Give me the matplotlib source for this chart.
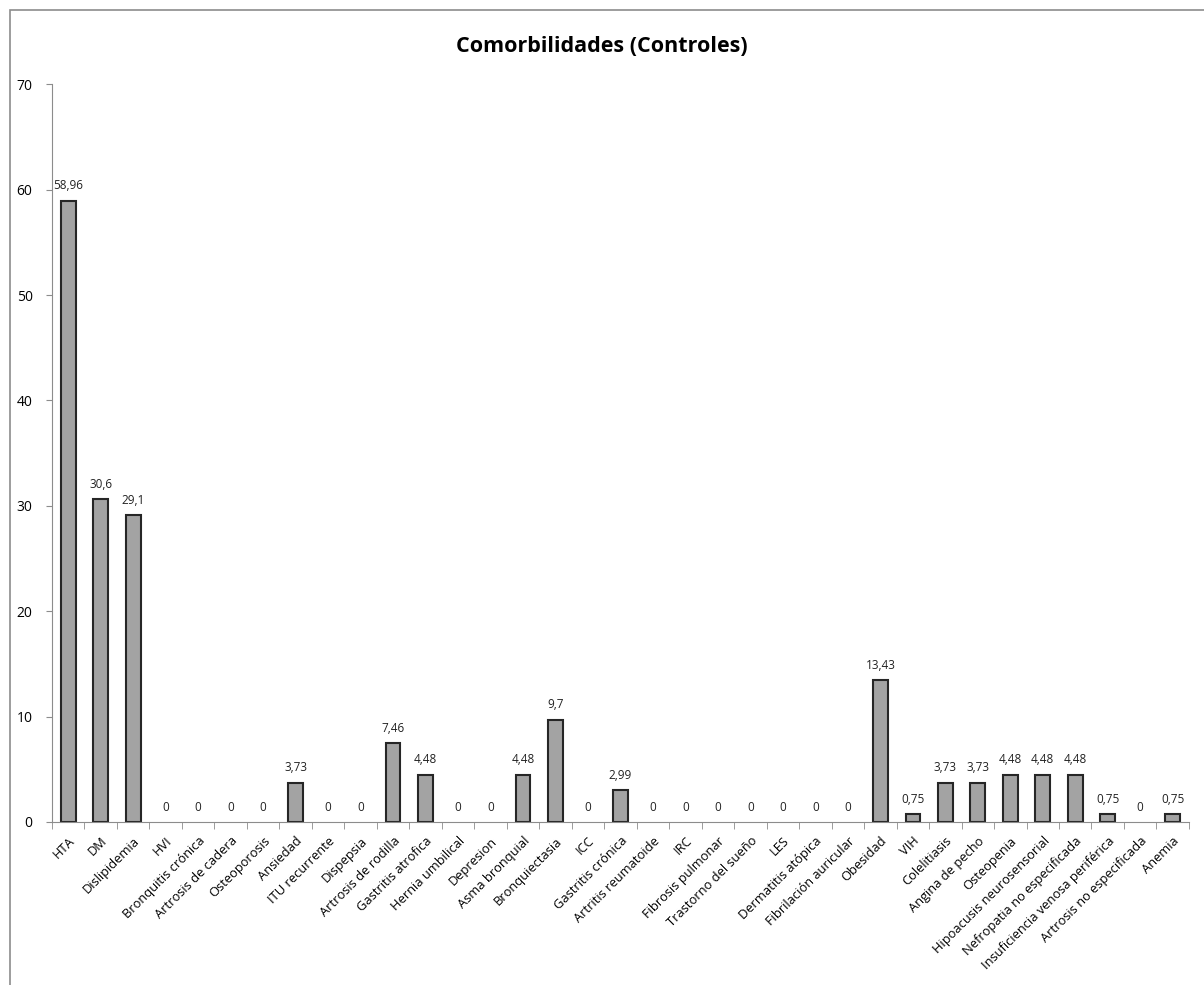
import matplotlib.pyplot as plt
from matplotlib.patches import Rectangle
import numpy as np

# Categories and values (percent)
categories = [
    'HTA', 'DM', 'Dislipidemia', 'HVI', 'Bronquitis crónica', 'Artrosis de cadera',
    'Osteoporosis', 'Ansiedad', 'ITU recurrente', 'Dispepsia', 'Artrosis de rodilla',
    'Gastritis atrofica', 'Hernia umbilical', 'Depresion', 'Asma bronquial',
    'Bronquiectasia', 'ICC', 'Gastritis crónica', 'Artritis reumatoide', 'IRC',
    'Fibrosis pulmonar', 'Trastorno del sueño', 'LES', 'Dermatitis atópica',
    'Fibrilación auricular', 'Obesidad', 'VIH', 'Colelitiasis', 'Angina de pecho',
    'Osteopenia', 'Hipoacusis neurosensorial', 'Nefropatia no especificada',
    'Insuficiencia venosa periférica', 'Artrosis no especificada', 'Anemia'
]
values = [58.96, 30.6, 29.1, 0, 0, 0, 0, 3.73, 0, 0, 7.46, 4.48, 0, 0, 4.48,
          9.7, 0, 2.99, 0, 0, 0, 0, 0, 0, 0, 13.43, 0.75, 3.73, 3.73, 4.48,
          4.48, 4.48, 0.75, 0, 0.75]
value_labels = ['58,96', '30,6', '29,1', '0', '0', '0', '0', '3,73', '0', '0',
                '7,46', '4,48', '0', '0', '4,48', '9,7', '0', '2,99', '0', '0',
                '0', '0', '0', '0', '0', '13,43', '0,75', '3,73', '3,73', '4,48',
                '4,48', '4,48', '0,75', '0', '0,75']

plt.rcParams['font.family'] = ['Open Sans', 'DejaVu Sans']

fig = plt.figure(figsize=(12.04, 9.85), dpi=100)
ax = fig.add_axes([0.0432, 0.1655, 0.9443, 0.749])

# Outer chart border
fig.patches.append(Rectangle((0.008, -0.01), 1.0, 1.0, transform=fig.transFigure,
                             fill=False, edgecolor='#8c8c8c', linewidth=1.2))

pos = np.arange(len(categories))
# zero-height bars get no outline (Excel draws nothing for them)
edge_widths = [1.5 if v > 0 else 0 for v in values]
rects = ax.bar(pos, values, 0.45, color='#a3a3a3', edgecolor='#262626', linewidth=edge_widths)

# Value labels above bars
for x, v, lab in zip(pos, values, value_labels):
    ax.text(x, v + 0.8, lab, ha='center', va='bottom', fontsize=8.5, color='#222222')

ax.set_xlim(-0.5, len(categories) - 0.5)
ax.set_ylim(0, 70)
ax.set_yticks(range(0, 71, 10))
ax.tick_params(axis='y', labelsize=10, length=4, color='#8c8c8c', pad=10)

ax.set_xticks(pos)
ax.set_xticklabels(categories, rotation=45, ha='right', rotation_mode='anchor', fontsize=9.3)
ax.tick_params(axis='x', which='major', length=0, pad=9)
ax.set_xticks(np.arange(-0.5, len(categories)), minor=True)
ax.tick_params(axis='x', which='minor', length=5, color='#8c8c8c')

for side in ['top', 'right']:
    ax.spines[side].set_visible(False)
for side in ['left', 'bottom']:
    ax.spines[side].set_color('#8c8c8c')

fig.text(0.5, 0.953, 'Comorbilidades (Controles)', ha='center', va='center',
         fontsize=15.5, fontweight='bold')

plt.savefig('out.png', dpi=100)
